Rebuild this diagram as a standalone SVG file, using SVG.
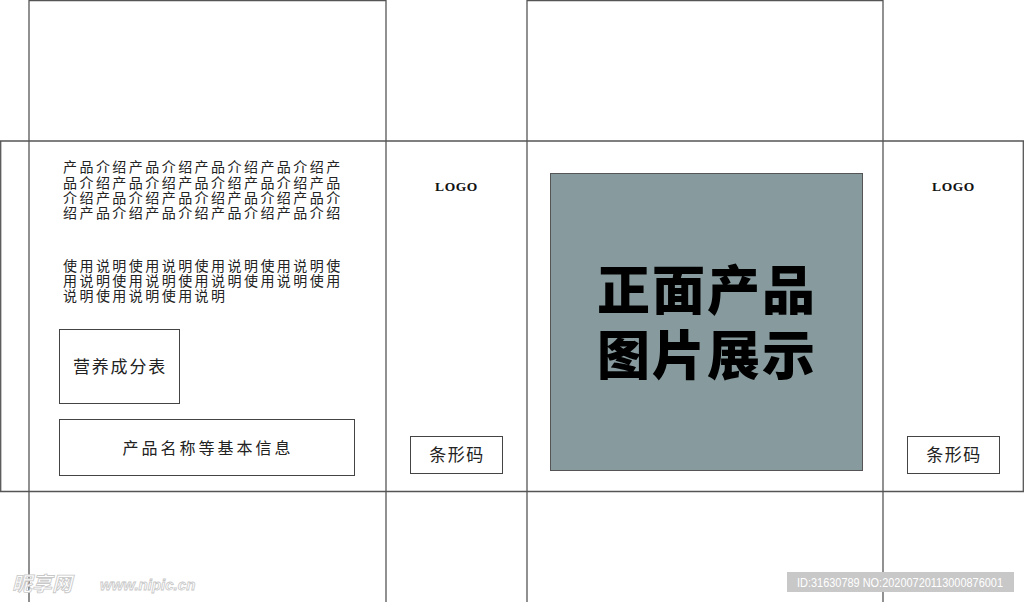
<svg xmlns="http://www.w3.org/2000/svg" width="1024" height="602" viewBox="0 0 1024 602">
<style>
.ln{stroke:#555;stroke-width:1.3;fill:none}
.box{stroke:#444;stroke-width:1;fill:#fff}
.cn{font-family:"Liberation Serif","Noto Sans CJK SC",serif;fill:#222}
.p{font-size:14px;letter-spacing:2.45px}
.lbl{font-size:17px;text-anchor:middle}
.logo{font-family:"Liberation Serif",serif;font-weight:bold;font-size:13.5px;text-anchor:middle;fill:#111;letter-spacing:0.6px}
.big{font-family:"Liberation Sans","Noto Sans CJK SC",sans-serif;font-weight:900;font-size:53px;text-anchor:middle;fill:#000;letter-spacing:2px}
</style>
<rect width="1024" height="602" fill="#fff"/>
<g id="dieline">
<line class="ln" x1="29" y1="0.7" x2="386" y2="0.7"/>
<line class="ln" x1="527" y1="0.7" x2="883" y2="0.7"/>
<line class="ln" x1="0" y1="141" x2="1024" y2="141"/>
<line class="ln" x1="0" y1="491.5" x2="1024" y2="491.5"/>
<line class="ln" x1="0.7" y1="141" x2="0.7" y2="491.5"/>
<line class="ln" x1="1023.3" y1="141" x2="1023.3" y2="491.5"/>
<line class="ln" x1="29" y1="0" x2="29" y2="602"/>
<line class="ln" x1="386" y1="0" x2="386" y2="602"/>
<line class="ln" x1="527" y1="0" x2="527" y2="602"/>
<line class="ln" x1="883" y1="0" x2="883" y2="602"/>
</g>
<g id="intro" class="cn p">
<text x="63" y="172">产品介绍产品介绍产品介绍产品介绍产</text>
<text x="63" y="187.5">品介绍产品介绍产品介绍产品介绍产品</text>
<text x="63" y="203">介绍产品介绍产品介绍产品介绍产品介</text>
<text x="63" y="218">绍产品介绍产品介绍产品介绍产品介绍</text>
</g>
<g id="usage" class="cn p">
<text x="63" y="271">使用说明使用说明使用说明使用说明使</text>
<text x="63" y="286">用说明使用说明使用说明使用说明使用</text>
<text x="63" y="301">说明使用说明使用说明</text>
</g>
<g id="nutrition">
<rect class="box" x="59.5" y="329.5" width="120" height="74"/>
<text class="cn lbl" x="120" y="373" style="letter-spacing:1.8px">营养成分表</text>
</g>
<g id="basic-info">
<rect class="box" x="59.5" y="419.5" width="295" height="56"/>
<text class="cn lbl" x="208" y="454" style="font-size:16px;letter-spacing:3px">产品名称等基本信息</text>
</g>
<g id="logo-left"><text class="logo" x="456.5" y="191">LOGO</text></g>
<g id="barcode-left">
<rect class="box" x="410.5" y="436.5" width="92" height="37"/>
<text class="cn lbl" x="457" y="461" style="letter-spacing:1.5px">条形码</text>
</g>
<g id="front-image">
<rect x="550.5" y="173.5" width="312" height="297" fill="#879b9e" stroke="#555" stroke-width="1"/>
<text class="big" x="707" y="310">正面产品</text>
<text class="big" x="707" y="375">图片展示</text>
</g>
<g id="logo-right"><text class="logo" x="953.5" y="191">LOGO</text></g>
<g id="barcode-right">
<rect class="box" x="907.5" y="436.5" width="92" height="37"/>
<text class="cn lbl" x="954" y="461" style="letter-spacing:1.5px">条形码</text>
</g>
<g id="watermark">
<text x="12" y="591" font-family="Noto Sans CJK SC,sans-serif" font-size="20" font-style="italic" font-weight="bold" fill="#fff" stroke="#c8c8c8" stroke-width="0.8">昵享网</text>
<text x="100" y="590" font-family="Liberation Sans,sans-serif" font-size="15" font-style="italic" font-weight="bold" fill="#fff" stroke="#c8c8c8" stroke-width="0.8">www.nipic.cn</text>
<rect x="787" y="572" width="227" height="20" fill="#c8c8c8"/>
<text x="797" y="586.5" textLength="206" lengthAdjust="spacingAndGlyphs" font-family="Liberation Sans,sans-serif" font-size="12" fill="#fff">ID:31630789 NO:20200720113000876001</text>
</g>
</svg>
